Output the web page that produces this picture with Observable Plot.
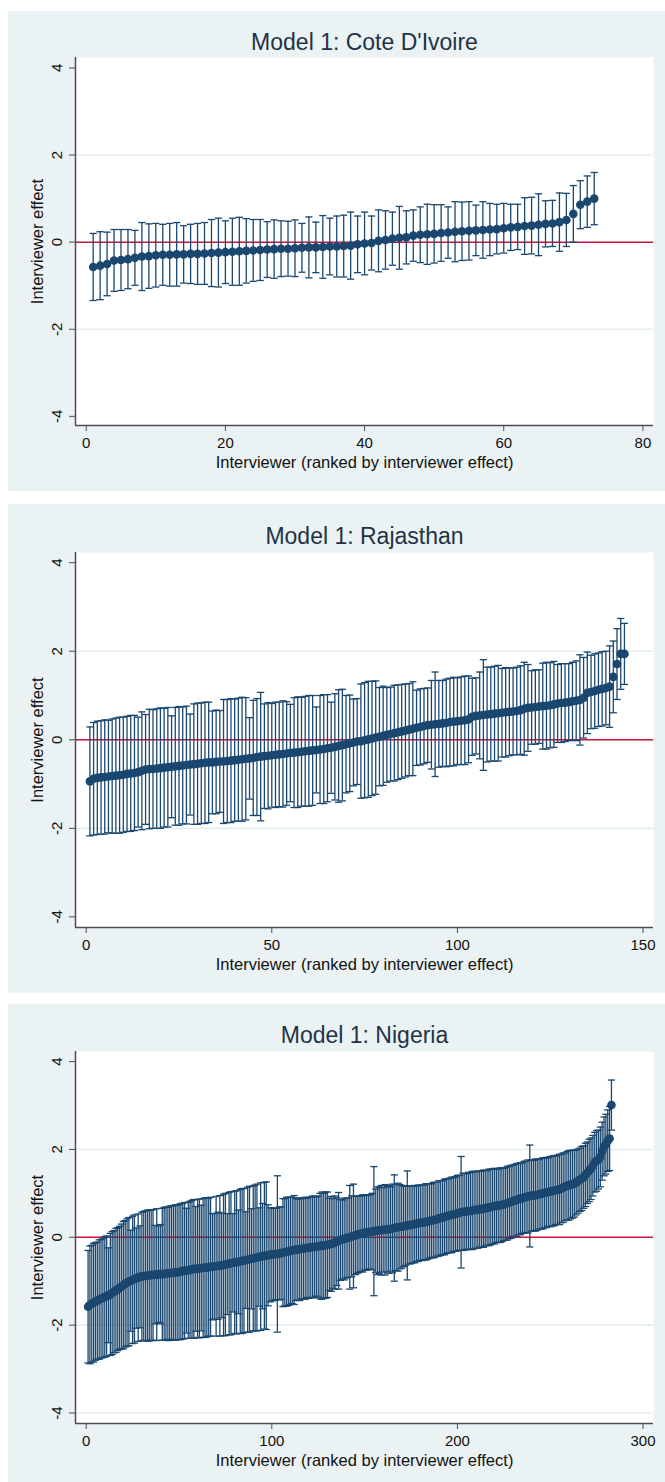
<!DOCTYPE html>
<html><head><meta charset="utf-8">
<script src="https://cdn.jsdelivr.net/npm/d3@7"></script>
<script src="https://cdn.jsdelivr.net/npm/@observablehq/plot@0.6"></script>
<style>
html,body{margin:0;padding:0;background:#fff;}
body{width:665px;height:1482px;position:relative;overflow:hidden;font-family:"Liberation Sans",Arial,sans-serif;}
.panel{position:absolute;left:8px;width:657px;background:#eaf2f3;}
.panel svg{display:block;}
</style></head><body>
<div id="p1" class="panel" style="top:11px;height:480px"></div>
<div id="p2" class="panel" style="top:504px;height:489px"></div>
<div id="p3" class="panel" style="top:1004px;height:478px"></div>
<script>
// ---------- data ----------
const titles = ["Model 1: Cote D'Ivoire", "Model 1: Rajasthan", "Model 1: Nigeria"];
const xLabel = "Interviewer (ranked by interviewer effect)";
const yLabel = "Interviewer effect";
const yTicks = [-4, -2, 0, 2, 4];
const xTicksCiv = [0, 20, 40, 60, 80];
const xTicksRaj = [0, 50, 100, 150];
const xTicksNga = [0, 100, 200, 300];

// Cote D'Ivoire: effect and half-width of the 95% interval (73 interviewers)
const civEffect = [-0.57,-0.54,-0.50,-0.42,-0.41,-0.39,-0.36,-0.33,-0.32,-0.30,
-0.29,-0.29,-0.28,-0.28,-0.27,-0.27,-0.26,-0.25,-0.24,-0.23,
-0.22,-0.21,-0.20,-0.19,-0.18,-0.17,-0.16,-0.15,-0.15,-0.14,
-0.13,-0.12,-0.12,-0.11,-0.10,-0.10,-0.09,-0.08,-0.05,-0.03,
-0.02,0.03,0.05,0.08,0.10,0.11,0.15,0.17,0.18,0.19,
0.21,0.22,0.24,0.25,0.26,0.27,0.28,0.29,0.30,0.32,
0.34,0.35,0.37,0.38,0.40,0.42,0.43,0.46,0.51,0.65,
0.86,0.93,1.00];
const civHalf = [0.77,0.78,0.73,0.71,0.70,0.68,0.63,0.78,0.74,0.73,
0.70,0.72,0.73,0.66,0.68,0.70,0.71,0.77,0.79,0.72,
0.77,0.78,0.74,0.71,0.70,0.64,0.67,0.64,0.63,0.65,
0.56,0.70,0.58,0.72,0.65,0.70,0.71,0.77,0.65,0.72,
0.62,0.71,0.67,0.61,0.72,0.61,0.59,0.64,0.69,0.67,
0.65,0.59,0.69,0.67,0.67,0.58,0.65,0.60,0.57,0.57,
0.53,0.52,0.65,0.65,0.71,0.53,0.53,0.67,0.61,0.65,
0.55,0.59,0.60];

// Rajasthan (145 interviewers)
const rajEffect = [-0.94,-0.88,-0.86,-0.85,-0.84,-0.83,-0.82,-0.81,-0.80,-0.79,
-0.77,-0.76,-0.75,-0.73,-0.70,-0.67,-0.66,-0.66,-0.65,-0.64,
-0.63,-0.62,-0.61,-0.60,-0.59,-0.58,-0.57,-0.56,-0.55,-0.54,
-0.53,-0.52,-0.51,-0.51,-0.50,-0.49,-0.49,-0.48,-0.47,-0.46,
-0.45,-0.44,-0.43,-0.42,-0.41,-0.39,-0.38,-0.37,-0.36,-0.35,
-0.34,-0.33,-0.32,-0.31,-0.30,-0.29,-0.28,-0.27,-0.26,-0.25,
-0.24,-0.23,-0.22,-0.21,-0.19,-0.18,-0.16,-0.14,-0.12,-0.10,
-0.08,-0.06,-0.04,-0.03,-0.01,0.01,0.03,0.05,0.07,0.09,
0.11,0.13,0.15,0.17,0.19,0.21,0.23,0.25,0.27,0.29,
0.31,0.33,0.34,0.35,0.36,0.37,0.38,0.40,0.41,0.42,
0.43,0.44,0.46,0.52,0.54,0.55,0.56,0.57,0.58,0.59,
0.60,0.61,0.62,0.63,0.64,0.65,0.67,0.70,0.72,0.73,
0.74,0.75,0.76,0.77,0.78,0.80,0.82,0.83,0.84,0.85,
0.87,0.88,0.90,0.95,1.06,1.08,1.10,1.13,1.15,1.17,
1.20,1.42,1.71,1.94,1.94];
const rajHalf = [1.23,1.27,1.28,1.28,1.29,1.27,1.29,1.30,1.31,1.30,
1.30,1.31,1.30,1.24,1.33,1.24,1.35,1.34,1.35,1.36,
1.34,1.35,1.15,1.33,1.34,1.32,1.33,1.14,1.36,1.37,
1.36,1.37,1.36,1.16,1.17,1.15,1.40,1.39,1.40,1.38,
1.39,1.40,1.38,0.92,1.30,1.32,1.45,1.18,1.20,1.17,
1.19,1.18,1.20,1.17,1.10,1.24,1.25,1.23,1.24,1.25,
1.24,0.97,1.22,1.23,1.21,1.03,1.20,1.27,1.26,1.10,
1.09,0.98,0.97,1.29,1.30,1.31,1.29,1.28,1.11,1.12,
1.07,1.06,1.08,1.07,1.06,1.05,1.04,1.06,0.85,0.86,
0.85,0.84,1.00,1.18,0.98,0.97,0.99,0.99,1.00,0.98,
0.99,1.00,0.98,0.87,0.86,0.98,1.25,1.07,1.06,1.07,
1.08,1.00,1.01,0.99,0.98,0.99,1.00,1.05,0.98,0.83,
0.84,0.83,0.97,0.98,0.96,0.97,0.88,0.89,0.88,0.87,
0.88,0.90,1.02,0.91,0.92,0.83,0.84,0.83,0.84,0.83,
0.92,0.81,0.80,0.80,0.69];

// Nigeria (283 interviewers)
const ngaEffect = [-1.58,-1.54,-1.51,-1.49,-1.46,-1.44,-1.42,-1.40,-1.38,-1.36,
-1.34,-1.32,-1.30,-1.27,-1.24,-1.21,-1.18,-1.15,-1.12,-1.09,
-1.06,-1.03,-1.01,-0.99,-0.97,-0.95,-0.93,-0.92,-0.90,-0.89,
-0.88,-0.88,-0.87,-0.87,-0.86,-0.86,-0.85,-0.85,-0.84,-0.84,
-0.84,-0.83,-0.83,-0.82,-0.82,-0.81,-0.81,-0.80,-0.80,-0.79,
-0.78,-0.77,-0.76,-0.76,-0.75,-0.74,-0.73,-0.72,-0.72,-0.71,
-0.71,-0.70,-0.70,-0.69,-0.69,-0.68,-0.67,-0.67,-0.66,-0.66,
-0.65,-0.65,-0.64,-0.63,-0.62,-0.61,-0.60,-0.59,-0.58,-0.57,
-0.57,-0.56,-0.55,-0.54,-0.53,-0.52,-0.51,-0.50,-0.49,-0.48,
-0.47,-0.46,-0.45,-0.44,-0.43,-0.42,-0.42,-0.41,-0.40,-0.39,
-0.39,-0.38,-0.38,-0.37,-0.36,-0.35,-0.34,-0.33,-0.32,-0.31,
-0.30,-0.29,-0.28,-0.28,-0.27,-0.26,-0.26,-0.25,-0.24,-0.24,
-0.23,-0.22,-0.22,-0.21,-0.21,-0.20,-0.19,-0.19,-0.18,-0.17,
-0.16,-0.15,-0.14,-0.12,-0.10,-0.08,-0.06,-0.05,-0.04,-0.02,
-0.01,0.00,0.02,0.03,0.04,0.06,0.07,0.08,0.09,0.10,
0.11,0.12,0.12,0.13,0.14,0.15,0.15,0.16,0.16,0.17,
0.17,0.18,0.18,0.19,0.20,0.21,0.22,0.23,0.24,0.24,
0.25,0.26,0.27,0.28,0.28,0.29,0.30,0.31,0.32,0.33,
0.33,0.34,0.35,0.36,0.37,0.38,0.39,0.40,0.41,0.43,
0.44,0.45,0.46,0.48,0.49,0.50,0.51,0.52,0.53,0.55,
0.56,0.57,0.58,0.58,0.59,0.60,0.60,0.61,0.62,0.62,
0.63,0.64,0.64,0.65,0.66,0.67,0.68,0.69,0.70,0.71,
0.72,0.72,0.73,0.74,0.75,0.76,0.78,0.79,0.81,0.83,
0.84,0.85,0.87,0.88,0.89,0.91,0.92,0.93,0.94,0.95,
0.95,0.96,0.97,0.98,0.99,1.00,1.01,1.02,1.03,1.04,
1.05,1.06,1.07,1.08,1.09,1.11,1.13,1.15,1.17,1.18,
1.20,1.21,1.22,1.25,1.28,1.31,1.34,1.37,1.42,1.47,
1.52,1.56,1.63,1.71,1.74,1.77,1.83,1.96,2.07,2.12,
2.20,2.25,3.01];
const ngaHalf = [1.28,1.34,1.33,1.35,1.34,1.33,1.36,1.35,1.36,1.37,
1.37,1.08,1.39,1.40,1.39,1.41,1.40,1.40,1.42,1.45,
1.44,1.45,1.46,1.15,1.45,1.46,1.14,1.45,1.16,1.46,
1.47,1.48,1.49,1.49,1.48,1.49,1.12,1.50,1.10,1.13,
1.50,1.51,1.52,1.50,1.53,1.52,1.53,1.54,1.53,1.54,
1.55,1.54,1.55,1.42,1.55,1.56,1.57,1.58,1.42,1.57,
1.58,1.43,1.58,1.59,1.58,1.57,1.58,1.21,1.20,1.59,
1.22,1.60,1.19,1.61,1.62,1.15,1.62,1.63,1.12,1.62,
1.63,1.18,1.64,1.65,1.64,1.10,1.65,1.66,1.14,1.65,
1.66,1.67,1.12,1.68,1.20,1.67,1.68,1.15,1.07,1.06,
1.05,1.04,1.78,1.06,1.05,1.23,1.22,1.24,1.23,1.22,
1.21,1.24,1.16,1.15,1.17,1.14,1.15,1.16,1.13,1.15,
1.14,1.16,1.15,1.13,1.15,1.20,1.22,1.19,1.21,1.20,
1.05,1.08,1.02,1.06,1.00,1.10,0.92,0.90,0.93,0.91,
0.90,1.18,0.92,1.18,0.89,0.88,0.87,0.86,0.88,0.85,
0.86,0.84,0.85,0.87,1.47,0.95,1.00,0.98,1.02,0.96,
1.03,0.97,1.00,0.96,1.01,1.21,0.98,1.00,0.96,0.94,
0.92,0.90,1.24,0.89,0.88,0.87,0.88,0.86,0.87,0.85,
0.86,0.85,0.87,0.86,0.85,0.84,0.86,0.85,0.84,0.86,
0.85,0.84,0.86,0.85,0.84,0.85,0.86,0.84,0.85,0.86,
0.85,1.27,0.88,0.87,0.86,0.88,0.87,0.89,0.88,0.87,
0.88,0.86,0.87,0.88,0.86,0.85,0.87,0.86,0.85,0.86,
0.84,0.83,0.85,0.84,0.82,0.83,0.84,0.82,0.83,0.81,
0.82,0.83,0.81,0.82,0.80,0.82,0.81,0.83,1.16,0.81,
0.80,0.82,0.81,0.79,0.80,0.81,0.79,0.80,0.78,0.80,
0.79,0.80,0.78,0.79,0.80,0.78,0.79,0.77,0.78,0.79,
0.78,0.77,0.76,0.74,0.73,0.72,0.73,0.71,0.72,0.70,
0.71,0.70,0.69,0.68,0.69,0.67,0.68,0.66,0.67,0.68,
0.70,0.73,0.57];

// ---------- drawing ----------
const navy = "#1a476f";
const axisColor = "#4d4d4d";
const capSymbol = {draw(ctx, size) { const r = Math.sqrt(size / Math.PI); ctx.moveTo(-r, 0); ctx.lineTo(r, 0); }};

function rows(effect, half) {
  return effect.map((e, k) => ({rank: k + 1, effect: e, lo: e - half[k], hi: e + half[k]}));
}

function panel(id, cfg) {
  const data = rows(cfg.effect, cfg.half);
  const chart = Plot.plot({
    width: 657, height: cfg.height,
    marginLeft: 67, marginRight: 12, marginTop: cfg.marginTop, marginBottom: cfg.marginBottom,
    style: {background: "transparent", fontFamily: "'Liberation Sans', Arial, sans-serif", fontSize: "15px", color: "#111", overflow: "visible"},
    x: {domain: cfg.xDomain, label: null},
    y: {domain: cfg.yDomain, label: null},
    marks: [
      Plot.frame({fill: "white"}),
      Plot.ruleY(cfg.grid, {stroke: "#e4edf0", strokeWidth: 1.6}),
      Plot.ruleY([0], {stroke: "#c8143c", strokeWidth: 1.5}),
      Plot.ruleX(data, {x: "rank", y1: "lo", y2: "hi", stroke: navy, strokeWidth: 1.3}),
      Plot.dot(data, {x: "rank", y: "lo", symbol: capSymbol, r: 3.6, fill: "none", stroke: navy, strokeWidth: 1.3}),
      Plot.dot(data, {x: "rank", y: "hi", symbol: capSymbol, r: 3.6, fill: "none", stroke: navy, strokeWidth: 1.3}),
      Plot.dot(data, {x: "rank", y: "effect", r: 4.3, fill: navy, stroke: "none"}),
      Plot.axisX({ticks: cfg.xTicks, tickSize: 6, tickPadding: 6, tickFormat: d => String(d), stroke: axisColor, fill: "#111", label: null}),
      Plot.axisY({ticks: yTicks, tickSize: 6, tickRotate: -90, tickPadding: 8, tickFormat: d => String(d), stroke: axisColor, fill: "#111", label: null}),
      Plot.ruleX([cfg.xDomain[0]], {stroke: axisColor, strokeWidth: 1.5}),
      Plot.ruleY([cfg.yDomain[0]], {stroke: axisColor, strokeWidth: 1.5}),
      Plot.text([cfg.title], {frameAnchor: "top", dy: cfg.titleDy, fontSize: 23, fill: "#1f3347", textAnchor: "middle", lineAnchor: "middle"}),
      Plot.text([xLabel], {frameAnchor: "bottom", dy: 37, fontSize: 16.5, fill: "#111", textAnchor: "middle", lineAnchor: "middle"}),
      Plot.text([yLabel], {frameAnchor: "left", dx: -38, rotate: -90, fontSize: 16.5, fill: "#111", textAnchor: "middle", lineAnchor: "middle"})
    ]
  });
  document.getElementById(id).appendChild(chart);
}

panel("p1", {title: titles[0], effect: civEffect, half: civHalf, xTicks: xTicksCiv,
  xDomain: [-1.54, 81.52], yDomain: [-4.21, 4.24], grid: [-2, 2],
  height: 480, marginTop: 46, marginBottom: 66, titleDy: -15});
panel("p2", {title: titles[1], effect: rajEffect, half: rajHalf, xTicks: xTicksRaj,
  xDomain: [-2.88, 152.83], yDomain: [-4.24, 4.23], grid: [-2, 2],
  height: 489, marginTop: 48, marginBottom: 66, titleDy: -16});
panel("p3", {title: titles[2], effect: ngaEffect, half: ngaHalf, xTicks: xTicksNga,
  xDomain: [-5.77, 305.66], yDomain: [-4.24, 4.23], grid: [-4, -2, 2],
  height: 478, marginTop: 47, marginBottom: 59, titleDy: -16});
</script>
</body></html>
